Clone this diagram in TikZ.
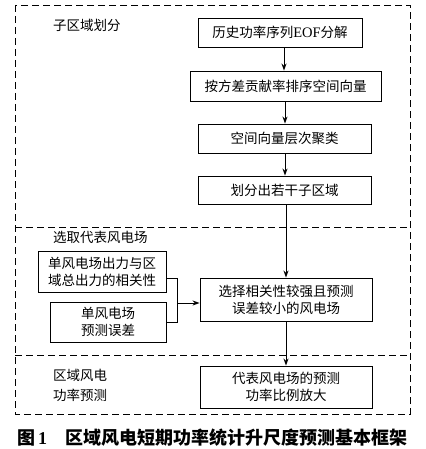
\documentclass[tikz,border=0pt]{standalone}
\usepackage{fontspec}
\setmainfont{Liberation Serif}
\newfontfamily\cjk{Noto Sans CJK SC}
\newfontfamily\lat{Liberation Serif}
\usetikzlibrary{arrows.meta}
\begin{document}
\begin{tikzpicture}[x=1pt,y=-1pt,
  box/.style={draw,line width=0.9pt,minimum width=#1,inner sep=0pt,align=center,font=\cjk\fontsize{13.5}{17}\selectfont},
  lbl/.style={anchor=west,inner sep=0pt,align=left,font=\cjk\fontsize{13.5}{20}\selectfont},
  frame/.style={line width=0.9pt,dash pattern=on 7pt off 4pt},
  arr/.style={line width=0.9pt,-{Stealth[length=7pt,width=5pt]}},
  ln/.style={line width=0.9pt}]
\useasboundingbox (0,0) rectangle (425,449);
% frame
\draw[frame] (15,5) rectangle (410,414);
\draw[frame] (15,227) -- (410,227);
\draw[frame] (15,355) -- (410,355);
% section labels
\node[lbl] (l1) at (53,25) {子区域划分};
\node[lbl] (l2) at (53,237) {选取代表风电场};
\node[lbl] (l3) at (53,385) {区域风电\\功率预测};
% boxes
\node[box=164pt,minimum height=29pt] (b1) at (280,32.5) {历史功率序列{\lat\fontsize{14.5}{17}\selectfont EOF}分解};
\node[box=191pt,minimum height=30pt] (b2) at (285.5,86) {按方差贡献率排序空间向量};
\node[box=173pt,minimum height=29pt] (b3) at (284.5,138.5) {空间向量层次聚类};
\node[box=173pt,minimum height=28pt] (b4) at (284.5,190) {划分出若干子区域};
\node[box=172pt,minimum height=43pt] (b5) at (286,299.5) {选择相关性较强且预测\\误差较小的风电场};
\node[box=128pt,minimum height=41pt] (b6) at (102,271.5) {单风电场出力与区\\域总出力的相关性};
\node[box=116pt,minimum height=40pt] (b7) at (108,322) {单风电场\\预测误差};
\node[box=172pt,minimum height=42pt] (b8) at (286,387) {代表风电场的预测\\功率比例放大};
% connectors
\draw[arr] (b1.south -| 284,0) -- (284,0 |- b2.north);
\draw[arr] (b2.south -| 285,0) -- (285,0 |- b3.north);
\draw[arr] (b3.south -| 285,0) -- (285,0 |- b4.north);
\draw[arr] (b4.south -| 286,0) -- (286,0 |- b5.north);
\draw[arr] (b5.south -| 286,0) -- (286,0 |- b8.north);
\coordinate (j) at (177,303);
\draw[ln] (b6.east |- 0,278) -| (j);
\draw[ln] (b7.east) -| (j);
\draw[arr] (j) -- (b5.west |- j);
% caption
\node[anchor=west,inner sep=0pt,font=\bfseries\fontsize{18}{20}\selectfont] (cap) at (17,438) {{\cjk 图}\,1\hspace{18pt}{\cjk 区域风电短期功率统计升尺度预测基本框架}};
\end{tikzpicture}
\end{document}
